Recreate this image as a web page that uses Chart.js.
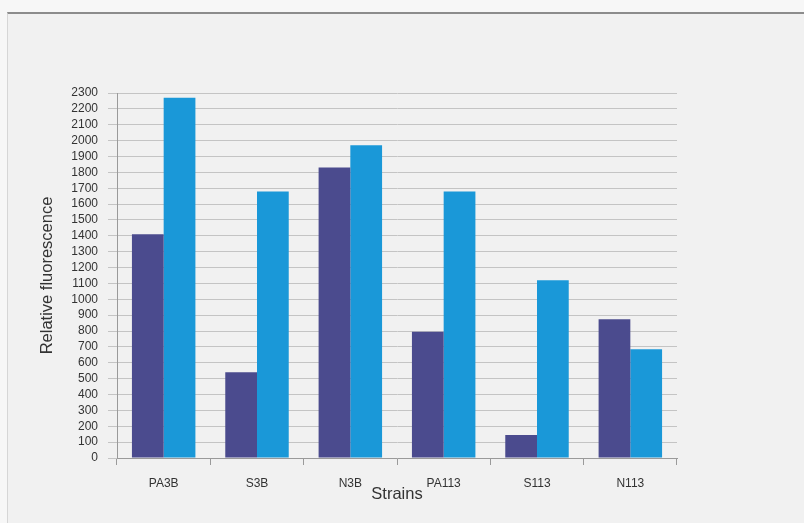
<!DOCTYPE html>
<html>
<head>
  <title>Relative fluorescence by strain</title>
  <script src="https://cdn.jsdelivr.net/npm/chart.js"></script>
  <style>
    html, body { margin: 0; padding: 0; background: #f7f7f7; }
    #frame {
      position: absolute; left: 7px; top: 12px; width: 797px; height: 511px;
      background: #f1f1f1; border-top: 2px solid #8c8c8c; border-left: 1px solid #d6d6d6;
      box-sizing: border-box;
    }
    #wrap { position: absolute; left: 0; top: 0; width: 804px; height: 523px; }
  </style>
</head>
<body>
  <div id="frame"></div>
  <div id="wrap"><canvas id="fluoChart" width="804" height="523"></canvas></div>

  <script>
    var strains = ['PA3B', 'S3B', 'N3B', 'PA113', 'S113', 'N113'];
    var seriesDark = [1410, 540, 1830, 795, 145, 875];
    var seriesLight = [2270, 1680, 1970, 1680, 1120, 685];
    var yMax = 2300;
    var yStep = 100;

    var font = 'Liberation Sans, Arial, sans-serif';

    var ctx = document.getElementById('fluoChart').getContext('2d');
    var fluoChart = new Chart(ctx, {
      type: 'bar',
      data: {
        labels: strains,
        datasets: [{
          label: 'Series 1',
          data: seriesDark,
          backgroundColor: '#4b4b8e',
          categoryPercentage: 0.68,
          barPercentage: 1.0
        }, {
          label: 'Series 2',
          data: seriesLight,
          backgroundColor: '#1a98d8',
          categoryPercentage: 0.68,
          barPercentage: 1.0
        }]
      },
      options: {
        responsive: false,
        animation: false,
        layout: { padding: { left: 30, right: 127, top: 93, bottom: 0 } },
        plugins: { legend: { display: false }, tooltip: { enabled: false } },
        scales: {
          x: {
            grid: { offset: true, drawOnChartArea: false, drawTicks: true, tickLength: 7, color: '#9a9a9a' },
            border: { display: true, color: '#9a9a9a' },
            ticks: { color: '#333', padding: 11, font: { family: font, size: 12 }, maxRotation: 0 },
            title: { display: true, text: 'Strains', color: '#333', font: { family: font, size: 16.5 }, padding: { top: 0, bottom: 19 } },
            afterFit: function (scale) { scale.height = 65; }
          },
          y: {
            min: 0,
            max: yMax,
            grid: { color: '#c4c4c4', tickLength: 9, drawTicks: true },
            border: { display: true, color: '#9a9a9a' },
            ticks: {
              stepSize: yStep, autoSkip: false, color: '#333', padding: 10,
              font: { family: font, size: 12 },
              callback: function (value) { return String(value); }
            },
            title: { display: true, text: 'Relative fluorescence', color: '#333', font: { family: font, size: 16.5 }, padding: { top: 8, bottom: 0 } },
            afterFit: function (scale) { scale.width = 87; }
          }
        }
      }
    });
  </script>
</body>
</html>
